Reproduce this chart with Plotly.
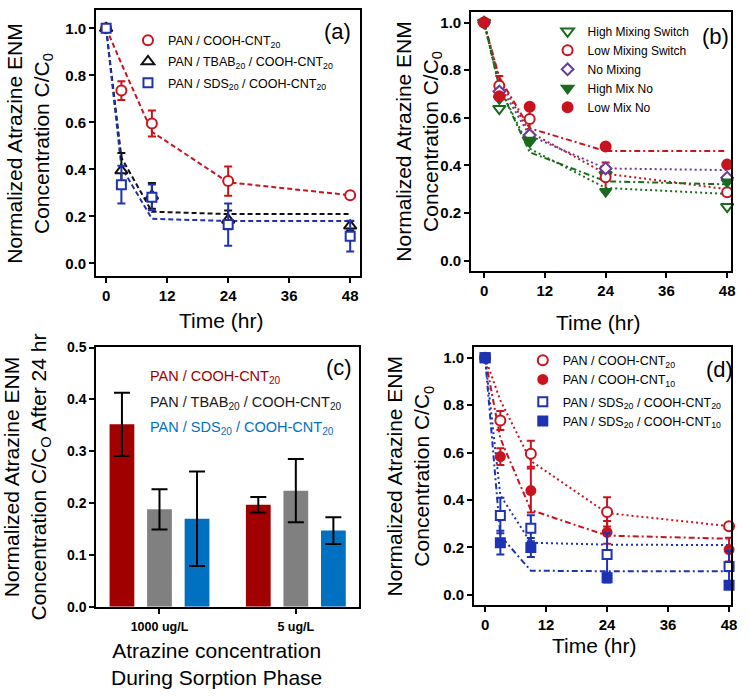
import plotly.graph_objects as go

W, H = 750, 699

# ---------------- data ----------------
time = [0, 3, 9, 24, 48]
fit_time = [0, 3, 9, 24, 48]

# panel (a)
a_cnt20 = [1.0, 0.735, 0.595, 0.35, 0.29]
a_cnt20_err = [0, 0.04, 0.055, 0.062, 0.0]
a_tbab = [1.0, 0.395, 0.287, 0.185, 0.16]
a_tbab_err = [0, 0.075, 0.055, 0.04, 0.02]
a_sds = [1.0, 0.335, 0.281, 0.165, 0.116]
a_sds_err = [0, 0.08, 0.055, 0.09, 0.065]
a_fit_cnt20 = [1.0, 0.85, 0.56, 0.345, 0.29]
a_fit_tbab = [1.0, 0.45, 0.22, 0.21, 0.21]
a_fit_sds = [1.0, 0.41, 0.19, 0.18, 0.18]

# panel (b)
b_high_switch = [1.0, 0.638, 0.50, 0.36, 0.226]
b_low_switch = [1.0, 0.735, 0.595, 0.35, 0.287]
b_low_switch_err = [0, 0.04, 0.055, 0.062, 0.0]
b_no_mix = [1.0, 0.71, 0.527, 0.387, 0.348]
b_high_no = [1.0, 0.679, 0.505, 0.29, 0.33]
b_low_no = [1.0, 0.69, 0.646, 0.479, 0.403]
b_fit_high_switch = [1.0, 0.73, 0.47, 0.305, 0.28]
b_fit_low_switch = [1.0, 0.76, 0.54, 0.365, 0.30]
b_fit_no_mix = [1.0, 0.74, 0.525, 0.387, 0.38]
b_fit_high_no = [1.0, 0.73, 0.455, 0.333, 0.32]
b_fit_low_no = [1.0, 0.77, 0.556, 0.46, 0.46]

# panel (c)
c_groups = ["1000 ug/L", "5 ug/L"]
c_cnt20 = [0.352, 0.197]
c_cnt20_err = [0.061, 0.015]
c_tbab = [0.188, 0.224]
c_tbab_err = [0.039, 0.061]
c_sds = [0.170, 0.147]
c_sds_err = [0.091, 0.026]

# panel (d)
d_cnt20 = [1.0, 0.735, 0.595, 0.35, 0.29]
d_cnt20_err = [0, 0.04, 0.055, 0.062, 0.0]
d_cnt10 = [1.0, 0.583, 0.44, 0.264, 0.191]
d_cnt10_err = [0, 0.035, 0.093, 0.048, 0.05]
d_sds20 = [1.0, 0.335, 0.281, 0.17, 0.12]
d_sds20_err = [0, 0.075, 0.055, 0.09, 0.065]
d_sds10 = [1.0, 0.22, 0.20, 0.072, 0.041]
d_sds10_err = [0, 0.05, 0.04, 0.02, 0.0]
d_fit_cnt20 = [1.0, 0.82, 0.565, 0.345, 0.29]
d_fit_cnt10 = [1.0, 0.66, 0.358, 0.25, 0.237]
d_fit_sds20 = [1.0, 0.42, 0.22, 0.212, 0.21]
d_fit_sds10 = [1.0, 0.25, 0.102, 0.10, 0.10]

# ---------------- styles ----------------
RED = "#C8141E"
BLUE = "#1E32B4"
BLACK = "#111111"
GREEN = "#1B6B1E"
PURPLE = "#6A3A9C"
BAR_RED = "#A00000"
BAR_GRAY = "#808080"
BAR_BLUE = "#0070C0"
FONT = "Liberation Sans, Arial, sans-serif"


def px2x(p):
    return p / W


def px2y(p):
    return 1 - p / H


fig = go.Figure()


def pts(x, y, err, name, sym, color, fill, size, xa, ya, legend, group=None):
    fig.add_trace(go.Scatter(
        x=x, y=y, mode="markers", name=name,
        marker=dict(symbol=sym, size=size, color=fill,
                    line=dict(color=color, width=2)),
        error_y=(dict(type="data", array=err, color=color, thickness=2, width=4)
                 if err is not None else None),
        xaxis=xa, yaxis=ya, legend=legend, legendgroup=group, cliponaxis=False,
    ))


def fit(x, y, color, dash, xa, ya):
    fig.add_trace(go.Scatter(
        x=x, y=y, mode="lines", showlegend=False, hoverinfo="skip",
        line=dict(color=color, width=2, dash=dash),
        xaxis=xa, yaxis=ya,
    ))


# ---------------- panel (a) ----------------
DASH = "5px,3px"
fit(fit_time, a_fit_cnt20, RED, DASH, "x", "y")
fit(fit_time, a_fit_tbab, BLACK, DASH, "x", "y")
fit(fit_time, a_fit_sds, BLUE, DASH, "x", "y")
pts(time, a_cnt20, a_cnt20_err, "PAN / COOH-CNT<sub>20</sub>", "circle", RED, "white", 10, "x", "y", "legend", "a1")
pts(time, a_tbab, a_tbab_err, "PAN / TBAB<sub>20</sub> / COOH-CNT<sub>20</sub>", "triangle-up", BLACK, "white", 11, "x", "y", "legend", "a2")
pts(time, a_sds, a_sds_err, "PAN / SDS<sub>20</sub> / COOH-CNT<sub>20</sub>", "square", BLUE, "white", 9, "x", "y", "legend", "a3")

# ---------------- panel (b) ----------------
DOT = "2px,3px"
DASHDOT = "6px,3px,2px,3px"
fit(fit_time, b_fit_low_no, RED, DASHDOT, "x2", "y2")
fit(fit_time, b_fit_no_mix, PURPLE, DOT, "x2", "y2")
fit(fit_time, b_fit_low_switch, RED, DOT, "x2", "y2")
fit(fit_time, b_fit_high_no, GREEN, DASHDOT, "x2", "y2")
fit(fit_time, b_fit_high_switch, GREEN, DOT, "x2", "y2")
pts(time, b_high_switch, None, "High Mixing Switch", "triangle-down", GREEN, "white", 11, "x2", "y2", "legend2")
pts(time, b_low_switch, b_low_switch_err, "Low Mixing Switch", "circle", RED, "white", 10, "x2", "y2", "legend2")
pts(time, b_no_mix, None, "No Mixing", "diamond", PURPLE, "white", 9, "x2", "y2", "legend2")
pts(time, b_high_no, None, "High Mix No", "triangle-down", GREEN, GREEN, 10, "x2", "y2", "legend2")
pts(time, b_low_no, None, "Low Mix No", "circle", RED, RED, 10, "x2", "y2", "legend2")

# ---------------- panel (c) ----------------
for vals, errs, col, nm in [(c_cnt20, c_cnt20_err, BAR_RED, "PAN / COOH-CNT20"),
                            (c_tbab, c_tbab_err, BAR_GRAY, "PAN / TBAB20 / COOH-CNT20"),
                            (c_sds, c_sds_err, BAR_BLUE, "PAN / SDS20 / COOH-CNT20")]:
    fig.add_trace(go.Bar(
        x=c_groups, y=vals, name=nm, showlegend=False,
        marker=dict(color=col, line=dict(width=0)),
        error_y=dict(type="data", array=errs, color="black", thickness=2, width=8),
        xaxis="x3", yaxis="y3",
    ))

# ---------------- panel (d) ----------------
fit(fit_time, d_fit_cnt20, RED, DOT, "x4", "y4")
fit(fit_time, d_fit_cnt10, RED, DASHDOT, "x4", "y4")
fit(fit_time, d_fit_sds20, BLUE, DOT, "x4", "y4")
fit(fit_time, d_fit_sds10, BLUE, DASHDOT, "x4", "y4")
pts(time, d_cnt20, d_cnt20_err, "PAN / COOH-CNT<sub>20</sub>", "circle", RED, "white", 10, "x4", "y4", "legend3", "d1")
pts(time, d_cnt10, d_cnt10_err, "PAN / COOH-CNT<sub>10</sub>", "circle", RED, RED, 9, "x4", "y4", "legend3", "d1")
pts(time, d_sds20, d_sds20_err, "PAN / SDS<sub>20</sub> / COOH-CNT<sub>20</sub>", "square", BLUE, "white", 9, "x4", "y4", "legend3", "d2")
pts(time, d_sds10, d_sds10_err, "PAN / SDS<sub>20</sub> / COOH-CNT<sub>10</sub>", "square", BLUE, BLUE, 9, "x4", "y4", "legend3", "d2")

# ---------------- axes ----------------
tickfont = dict(family=FONT, size=15, color="black", weight="bold")


def xaxis(dom, rng, anchor, **kw):
    d = dict(domain=dom, range=rng, anchor=anchor, showline=True, mirror=True,
             linecolor="black", linewidth=2, ticks="outside", ticklen=5,
             tickwidth=2, tickcolor="black", showgrid=False, zeroline=False,
             tickfont=tickfont)
    d.update(kw)
    return d


time_ticks = dict(tickmode="array", tickvals=[0, 12, 24, 36, 48])
y_ticks = dict(tickmode="array", tickvals=[0, 0.2, 0.4, 0.6, 0.8, 1.0], tickformat=".1f")

fig.update_layout(
    width=W, height=H, margin=dict(l=0, r=0, t=0, b=0),
    paper_bgcolor="white", plot_bgcolor="white",
    font=dict(family=FONT, color="black"),
    barmode="group", bargap=0.174, bargroupgap=0.34,
    xaxis=xaxis([px2x(97), px2x(363)], [-1.95, 49.95], "y", **time_ticks),
    yaxis=xaxis([px2y(275), px2y(3)], [-0.054, 1.078], "x", **y_ticks),
    xaxis2=xaxis([px2x(475), px2x(737)], [-2.55, 48.78], "y2", **time_ticks),
    yaxis2=xaxis([px2y(270), px2y(5)], [-0.045, 1.045], "x2", **y_ticks),
    xaxis3=xaxis([px2x(97), px2x(362)], [-0.464, 1.464], "y3", type="category",
                 ticklabelstandoff=2,
                 tickfont=dict(family=FONT, size=12.5, color="black", weight="bold")),
    yaxis3=xaxis([px2y(613), px2y(347)], [0, 0.502], "x3", tickmode="array",
                 tickvals=[0, 0.1, 0.2, 0.3, 0.4, 0.5], tickformat=".1f",
                 tickfont=dict(family=FONT, size=14, color="black", weight="bold")),
    xaxis4=xaxis([px2x(478), px2x(737)], [-2.15, 48.4], "y4", **time_ticks),
    yaxis4=xaxis([px2y(611), px2y(347)], [-0.042, 1.047], "x4", **y_ticks),
)

leg_common = dict(bgcolor="rgba(0,0,0,0)", borderwidth=0, xanchor="left", yanchor="top",
                  itemclick=False, traceorder="grouped")
fig.update_layout(
    legend=dict(x=px2x(129), y=px2y(19), tracegroupgap=2,
                font=dict(family=FONT, size=12.5, color="black"), **leg_common),
    legend2=dict(x=px2x(552), y=px2y(10),
                 font=dict(family=FONT, size=12, color="black"), **leg_common),
    legend3=dict(x=px2x(527), y=px2y(346), tracegroupgap=3,
                 font=dict(family=FONT, size=12.5, color="black"), **leg_common),
)

# ---------------- text annotations ----------------
ann = []
title_font = dict(family=FONT, size=21, color="black")
ytitle = "Normalized Atrazine ENM<br>Concentration C/C<sub>0</sub>"
for cx, cy, txt in [(30, 140, ytitle), (422, 138, ytitle),
                    (27, 480, "Normalized Atrazine ENM<br>Concentration C/C<sub>O</sub> After 24 hr"),
                    (413, 480, ytitle)]:
    ann.append(dict(x=px2x(cx), y=px2y(cy), xref="paper", yref="paper", text=txt,
                    textangle=-90, showarrow=False, font=title_font,
                    xanchor="center", yanchor="middle"))
for cx, cy, txt in [(223, 320, "Time (hr)"), (603, 322, "Time (hr)"), (599, 652, "Time (hr)"),
                    (218, 671, "Atrazine concentration<br>During Sorption Phase")]:
    ann.append(dict(x=px2x(cx), y=px2y(cy), xref="paper", yref="paper", text=txt,
                    showarrow=False, font=title_font, xanchor="center", yanchor="middle"))
for cx, cy, txt in [(340, 25, "(a)"), (721, 30, "(b)"), (342, 368, "(c)"), (725, 370, "(d)")]:
    ann.append(dict(x=px2x(cx), y=px2y(cy), xref="paper", yref="paper", text=txt,
                    showarrow=False, font=dict(family=FONT, size=22, color="black"),
                    xanchor="center", yanchor="middle"))
for cy, txt, col in [(378, "PAN / COOH-CNT<sub>20</sub>", BAR_RED),
                     (405, "PAN / TBAB<sub>20</sub> / COOH-CNT<sub>20</sub>", "#1a1a1a"),
                     (430, "PAN / SDS<sub>20</sub> / COOH-CNT<sub>20</sub>", BAR_BLUE)]:
    ann.append(dict(x=px2x(149), y=px2y(cy), xref="paper", yref="paper", text=txt,
                    showarrow=False, font=dict(family=FONT, size=14.5, color=col),
                    xanchor="left", yanchor="middle"))
fig.update_layout(annotations=ann)

fig.write_html("out.html")
